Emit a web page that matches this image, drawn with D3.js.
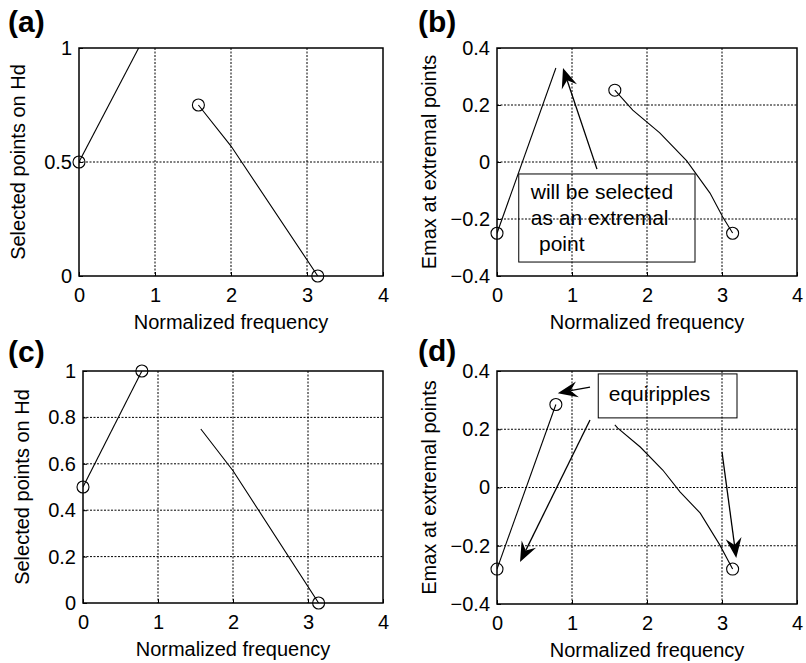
<!DOCTYPE html>
<html>
<head>
<meta charset="utf-8">
<script src="https://cdn.jsdelivr.net/npm/d3@7"></script>
<style>
  html, body { margin: 0; padding: 0; background: #fff; }
  svg { display: block; }
  text { font-family: "Liberation Sans", Arial, Helvetica, sans-serif; fill: #000; }
</style>
</head>
<body>
<svg id="chart" width="806" height="663"></svg>
<script>
// ---------- data ----------
const xTicks = [0, 1, 2, 3, 4];
const yTicksA = [0, 0.5, 1];
const yTicksB = [-0.4, -0.2, 0, 0.2, 0.4];
const yTicksC = [0, 0.2, 0.4, 0.6, 0.8, 1];
const yTicksD = [-0.4, -0.2, 0, 0.2, 0.4];

// panel (a)
const aLine1 = [[0, 0.5], [0.785, 1]];
const aLine2 = [[1.571, 0.75], [2.0, 0.57], [3.1416, 0]];
const aCircles = [[0, 0.5], [1.571, 0.75], [3.1416, 0]];

// panel (b)
const bLine1 = [[0, -0.25], [0.785, 0.33]];
const bLine2 = [[1.571, 0.252], [1.81, 0.182], [2.17, 0.102], [2.53, 0.004], [2.84, -0.109], [3.01, -0.193], [3.1416, -0.249]];
const bCircles = [[0, -0.25], [1.571, 0.252], [3.1416, -0.25]];

// panel (c)
const cLine1 = [[0, 0.5], [0.785, 1]];
const cLine2 = [[1.571, 0.75], [2.0, 0.57], [3.1416, 0]];
const cCircles = [[0, 0.5], [0.785, 1], [3.1416, 0]];

// panel (d)
const dLine1 = [[0, -0.28], [0.785, 0.285]];
const dLine2 = [[1.571, 0.215], [1.61, 0.204], [1.91, 0.139], [2.21, 0.060], [2.44, -0.015], [2.71, -0.088], [2.97, -0.197], [3.1416, -0.28]];
const dCircles = [[0, -0.28], [0.785, 0.285], [3.1416, -0.28]];

// annotations (data coordinates)
const bBox = [[0.29, -0.042], [2.64, -0.351]];
const bText = [["will be selected", 0.45, -0.130], ["as an extremal", 0.45, -0.221], ["point", 0.56, -0.312]];
const bArrows = [[[1.333, -0.025], [0.88, 0.33]]];

const dBox = [[1.35, 0.39], [3.2, 0.239]];
const dText = [["equiripples", 1.49, 0.297]];
const dArrows = [
  [[1.24, 0.345], [0.81, 0.324]],
  [[1.24, 0.232], [0.307, -0.256]],
  [[3.0, 0.122], [3.19, -0.242]]
];

const xLabel = "Normalized frequency";
const yLabelH = "Selected points on Hd";
const yLabelE = "Emax at extremal points";

// ---------- layout ----------
const panels = [
  { tag: "(a)", tagX: 8, tagY: 32, l: 79, r: 383, t: 48, b: 276, yDom: [0, 1], yTicks: yTicksA, yLab: yLabelH, yLabX: 25,
    lines: [aLine1, aLine2], circles: aCircles, box: null, texts: [], arrows: [] },
  { tag: "(b)", tagX: 418, tagY: 32, l: 497, r: 797, t: 48, b: 276, yDom: [-0.4, 0.4], yTicks: yTicksB, yLab: yLabelE, yLabX: 436,
    lines: [bLine1, bLine2], circles: bCircles, box: bBox, texts: bText, arrows: bArrows },
  { tag: "(c)", tagX: 8, tagY: 362, l: 83, r: 383, t: 371, b: 603, yDom: [0, 1], yTicks: yTicksC, yLab: yLabelH, yLabX: 29,
    lines: [cLine1, cLine2], circles: cCircles, box: null, texts: [], arrows: [] },
  { tag: "(d)", tagX: 418, tagY: 361, l: 497, r: 797, t: 371, b: 604, yDom: [-0.4, 0.4], yTicks: yTicksD, yLab: yLabelE, yLabX: 436,
    lines: [dLine1, dLine2], circles: dCircles, box: dBox, texts: dText, arrows: dArrows }
];

const svg = d3.select("#chart");
const FS = 20;

panels.forEach(p => {
  const x = d3.scaleLinear().domain([0, 4]).range([p.l, p.r]);
  const y = d3.scaleLinear().domain(p.yDom).range([p.b, p.t]);
  const g = svg.append("g");

  // grid (interior ticks only)
  g.selectAll(".gx").data(xTicks.slice(1, -1)).join("line")
    .attr("x1", d => x(d)).attr("x2", d => x(d)).attr("y1", p.t).attr("y2", p.b)
    .attr("stroke", "#000").attr("stroke-width", 1).attr("stroke-dasharray", "2,1.5");
  g.selectAll(".gy").data(p.yTicks.slice(1, -1)).join("line")
    .attr("x1", p.l).attr("x2", p.r).attr("y1", d => y(d)).attr("y2", d => y(d))
    .attr("stroke", "#000").attr("stroke-width", 1).attr("stroke-dasharray", "2,1.5");

  // axes
  const ax = g.append("g").attr("transform", `translate(0,${p.b})`)
    .call(d3.axisBottom(x).tickValues(xTicks).tickFormat(d3.format("d")).tickSizeInner(-4).tickSizeOuter(0).tickPadding(12));
  const ay = g.append("g").attr("transform", `translate(${p.l},0)`)
    .call(d3.axisLeft(y).tickValues(p.yTicks).tickFormat(d => d === 0 ? "0" : (Number.isInteger(d) ? d3.format("d")(d) : d3.format(".1f")(d))).tickSizeInner(-4).tickSizeOuter(0).tickPadding(7));
  [ax, ay].forEach(a => {
    a.select(".domain").remove();
    a.selectAll("line").attr("stroke", "#000");
    a.selectAll("text").attr("font-size", FS).attr("font-family", '"Liberation Sans", Arial, sans-serif').attr("fill", "#000");
  });

  // frame
  g.append("rect").attr("x", x(0)).attr("y", y(p.yDom[1]))
    .attr("width", x(4) - x(0)).attr("height", y(p.yDom[0]) - y(p.yDom[1]))
    .attr("fill", "none").attr("stroke", "#000").attr("stroke-width", 1.5);

  // data lines
  const clipId = "clip" + p.tag.replace(/[()]/g, "");
  svg.append("clipPath").attr("id", clipId).append("rect")
    .attr("x", p.l).attr("y", p.t).attr("width", p.r - p.l).attr("height", p.b - p.t);
  const line = d3.line().x(d => x(d[0])).y(d => y(d[1]));
  g.append("g").attr("clip-path", `url(#${clipId})`).selectAll("path").data(p.lines).join("path")
    .attr("d", line).attr("fill", "none").attr("stroke", "#000").attr("stroke-width", 1.1);

  g.selectAll(".pt").data(p.circles).join("circle")
    .attr("cx", d => x(d[0])).attr("cy", d => y(d[1])).attr("r", 6)
    .attr("fill", "none").attr("stroke", "#000").attr("stroke-width", 1.1);

  // annotation box & text
  if (p.box) {
    const bx0 = x(p.box[0][0]), by0 = y(p.box[0][1]), bx1 = x(p.box[1][0]), by1 = y(p.box[1][1]);
    g.append("rect").attr("x", bx0).attr("y", by0).attr("width", bx1 - bx0).attr("height", by1 - by0)
      .attr("fill", "none").attr("stroke", "#000").attr("stroke-width", 1);
  }
  g.selectAll(".ann").data(p.texts).join("text")
    .attr("x", d => x(d[1])).attr("y", d => y(d[2])).attr("font-size", 21).text(d => d[0]);

  // arrows
  p.arrows.forEach(a => {
    const x0 = x(a[0][0]), y0 = y(a[0][1]), x1 = x(a[1][0]), y1 = y(a[1][1]);
    const ang = Math.atan2(y1 - y0, x1 - x0);
    const L = 20, W = 8, N = 13;
    const ux = Math.cos(ang), uy = Math.sin(ang), px = -uy, py = ux;
    g.append("line").attr("x1", x0).attr("y1", y0).attr("x2", x1 - ux * N).attr("y2", y1 - uy * N)
      .attr("stroke", "#000").attr("stroke-width", 1.3);
    const head = [
      [x1, y1],
      [x1 - ux * L + px * W, y1 - uy * L + py * W],
      [x1 - ux * N, y1 - uy * N],
      [x1 - ux * L - px * W, y1 - uy * L - py * W]
    ];
    g.append("path").attr("d", "M" + head.map(h => h.join(",")).join("L") + "Z").attr("fill", "#000");
  });

  // labels
  g.append("text").attr("x", (p.l + p.r) / 2).attr("y", p.b + 53).attr("text-anchor", "middle")
    .attr("font-size", FS).text(xLabel);
  g.append("text").attr("transform", `translate(${p.yLabX},${(p.t + p.b) / 2}) rotate(-90)`)
    .attr("text-anchor", "middle").attr("font-size", FS).text(p.yLab);
  g.append("text").attr("x", p.tagX).attr("y", p.tagY).attr("font-size", 30).attr("font-weight", "bold").text(p.tag);
});
</script>
</body>
</html>
